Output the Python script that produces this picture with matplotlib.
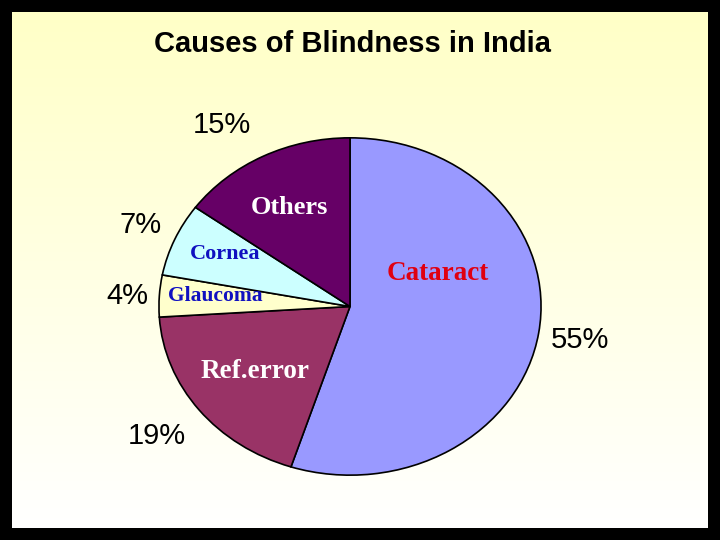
import matplotlib
matplotlib.use("Agg")
import matplotlib.pyplot as plt
import numpy as np

categories = ["Cataract", "Ref.error", "Glaucoma", "Cornea", "Others"]
values = [55, 19, 4, 7, 15]
colors = ["#9999FF", "#993366", "#FFFFCC", "#CCFFFF", "#660066"]

W, H = 720, 540
fig = plt.figure(figsize=(7.2, 5.4), dpi=100)
fig.patch.set_facecolor("black")

bg = fig.add_axes([12/W, 12/H, 1-24/W, 1-24/H])
grad = np.linspace(1, 0, 256).reshape(-1, 1)
top = np.array([1.0, 1.0, 0.78]); bot = np.array([1.0, 1.0, 1.0])
img = bot + (top - bot) * grad[..., None]
bg.imshow(img, aspect="auto", extent=[0, 1, 0, 1])
bg.axis("off")

ax = fig.add_axes([158/W, (H-476)/H, 384/W, 339/H])
ax.pie(values, colors=colors, startangle=90, counterclock=False,
       wedgeprops=dict(edgecolor="black", linewidth=1.2))
ax.set_aspect("auto")
ax.set_xlim(-1.005, 1.005); ax.set_ylim(-1.005, 1.005)
ax.axis("off")

def t(x, y, s, **kw):
    fig.text(x/W, 1-y/H, s, va="center", **kw)

t(154, 44, "Causes of Blindness in India", ha="left", fontsize=21, fontweight="bold", family="Liberation Sans")
pct = dict(fontsize=21, family="Liberation Sans")
t(222, 125, "15%", ha="center", **pct)
t(141, 225, "7%", ha="center", **pct)
t(127, 296, "4%", ha="center", **pct)
t(157, 436, "19%", ha="center", **pct)
t(580, 340, "55%", ha="center", **pct)
nm = dict(family="Liberation Serif", fontweight="bold")
t(289, 208, "Others", ha="center", fontsize=19, color="white", **nm)
t(225, 254, "Cornea", ha="center", fontsize=16, color="#1010C0", **nm)
t(215, 296, "Glaucoma", ha="center", fontsize=15.5, color="#1010C0", **nm)
t(438, 274, "Cataract", ha="center", fontsize=19.5, color="#E00010", **nm)
t(255, 371, "Ref.error", ha="center", fontsize=19.5, color="white", **nm)

fig.savefig("out.png", dpi=100, facecolor="black")
